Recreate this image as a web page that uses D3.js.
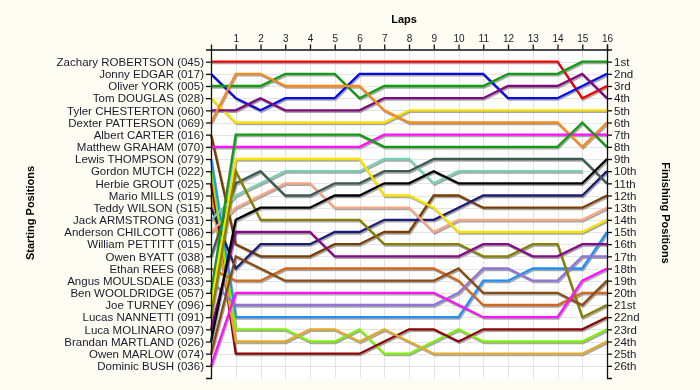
<html>
<head>
<script src="https://cdnjs.cloudflare.com/ajax/libs/d3/7.8.5/d3.min.js"></script>
<style>
body{
  margin:0;
  padding:0;
  background-color:#fdfdf4;
  overflow:hidden;
  font-family:'Liberation Sans', Arial, sans-serif;
}
#chart{
  position:fixed;
  left:0px;
  top:0px;
}
</style>
</head>
<body>
<div id="chart"></div>
<script>
//========== DATA =============
const laps = d3.range(0, 17);   // lap 0 = grid

const drivers = [
  "Zachary ROBERTSON (045)", "Jonny EDGAR (017)", "Oliver YORK (005)", "Tom DOUGLAS (028)",
  "Tyler CHESTERTON (060)", "Dexter PATTERSON (069)", "Albert CARTER (016)", "Matthew GRAHAM (070)",
  "Lewis THOMPSON (079)", "Gordon MUTCH (022)", "Herbie GROUT (025)", "Mario MILLS (019)",
  "Teddy WILSON (S15)", "Jack ARMSTRONG (031)", "Anderson CHILCOTT (086)", "William PETTITT (015)",
  "Owen BYATT (038)", "Ethan REES (068)", "Angus MOULSDALE (033)", "Ben WOOLDRIDGE (057)",
  "Joe TURNEY (096)", "Lucas NANNETTI (091)", "Luca MOLINARO (097)", "Brandan MARTLAND (026)",
  "Owen MARLOW (074)", "Dominic BUSH (036)"
];

const finishLabels = ["1st","2nd","3rd","4th","5th","6th","7th","8th","9th","10th","11th","12th","13th",
  "14th","15th","16th","17th","18th","19th","20th","21st","22nd","23rd","24th","25th","26th"];

const lineColors = [
  "#f00000", "#0a0ae6", "#139a13", "#f7e200", "#7d0a7d", "#f8891c", "#7a3d05", "#ff10ff",
  "#2090f8", "#7ef00a", "#8c0505", "#e0aa2a", "#1c1c74", "#78d0b0", "#f7a582", null,
  "#3c5a55", "#d2691e", "#9373d8", "#139a13", "#f7e200", "#868000", "#850a85", "#000000",
  "#8a4a14", "#ff10ff"
];

// position on each lap, driver by driver (null = not running)
const lapPositions = [
  [1,1,1,1,1,1,1,1,1,1,1,1,1,1,1,4,3],
  [2,4,5,4,4,4,2,2,2,2,2,2,4,4,4,3,2],
  [3,3,3,2,2,2,4,3,3,3,3,3,2,2,2,1,1],
  [4,6,6,6,6,6,6,6,5,5,5,5,5,5,5,5,5],
  [5,5,4,5,5,5,5,4,4,4,4,4,3,3,3,2,4],
  [6,2,2,3,3,3,3,5,6,6,6,6,6,6,6,8,6],
  [7,16,17,17,17,16,16,15,15,12,12,13,13,13,13,13,12],
  [8,8,8,8,8,8,8,7,7,7,7,7,7,7,7,7,7],
  [9,22,22,22,22,22,22,22,22,22,22,19,19,18,18,18,15],
  [10,23,23,23,24,24,23,25,25,24,23,24,24,24,24,24,23],
  [11,25,25,25,25,25,25,24,23,23,24,23,23,23,23,23,22],
  [12,24,24,24,23,23,24,23,24,25,25,25,25,25,25,25,24],
  [13,18,16,16,16,15,15,14,14,14,13,12,12,12,12,12,10],
  [14,12,11,10,10,10,10,9,9,11,10,10,10,10,10,10,null],
  [15,13,12,11,11,13,13,13,13,15,14,14,14,14,14,14,13],
  [16,null,null,null,null,null,null,null,null,null,null,null,null,null,null,null,null],
  [17,11,10,12,12,11,11,10,10,9,9,9,9,9,9,9,11],
  [18,19,19,18,18,18,18,18,18,18,19,21,21,21,21,20,20],
  [19,21,21,21,21,21,21,21,21,21,20,18,18,19,19,17,17],
  [20,7,7,7,7,7,7,8,8,8,8,8,8,8,8,6,8],
  [21,9,9,9,9,9,9,12,12,13,15,15,15,15,15,15,14],
  [22,10,14,14,14,14,14,16,16,16,16,17,17,16,16,22,21],
  [23,15,15,15,15,17,17,17,17,17,17,16,16,17,17,16,16],
  [24,14,13,13,13,12,12,11,11,10,11,11,11,11,11,11,9],
  [25,17,18,19,19,19,19,19,19,19,18,20,20,20,20,21,19],
  [26,20,20,20,20,20,20,20,20,20,21,22,22,22,22,19,18]
];

//========== SVG VIEW =============
const width = 700, height = 390;
const svg = d3.select("#chart").append("svg").attr("width", width).attr("height", height);

const x = d3.scaleLinear().domain([0, 16]).range([211, 607]);
const y = d3.scaleLinear().domain([0, 27]).range([49.5, 378]);
const rows = d3.range(1, 27);

// plot background
svg.append("rect")
  .attr("x", x(0)).attr("y", y(0))
  .attr("width", x(16) - x(0)).attr("height", y(27) - y(0))
  .attr("fill", "white");

// grid
const grid = svg.append("g").attr("stroke", "#e4e4e4").attr("stroke-width", 1);
grid.selectAll(".vg").data(laps.slice(1)).enter().append("line")
  .attr("x1", d => Math.round(x(d)) + 0.5).attr("x2", d => Math.round(x(d)) + 0.5)
  .attr("y1", y(0)).attr("y2", y(27));
grid.selectAll(".hg").data(rows).enter().append("line")
  .attr("y1", d => Math.round(y(d)) + 0.5).attr("y2", d => Math.round(y(d)) + 0.5)
  .attr("x1", x(0)).attr("x2", x(16));

//========== LINES ===========
const series = lapPositions.map((p, i) => ({
  color: lineColors[i],
  pts: laps.map(l => [l, p[l]]).filter(d => d[1] != null)
})).filter(s => s.pts.length > 1);

const line = d3.line().x(d => x(d[0])).y(d => y(d[1]));

svg.append("g").attr("transform", "translate(1,1.6)")
  .selectAll("path").data(series).enter().append("path")
  .attr("d", d => line(d.pts))
  .attr("fill", "none").attr("stroke", "#8a8a8a").attr("stroke-opacity", 0.75)
  .attr("stroke-width", 2.2);

svg.append("g")
  .selectAll("path").data(series).enter().append("path")
  .attr("d", d => line(d.pts))
  .attr("fill", "none").attr("stroke", d => d.color)
  .attr("stroke-width", 2.3);

//========== AXES ===========
const leftAxis = d3.axisLeft(y).tickValues(rows).tickFormat(d => drivers[d - 1]).tickSize(5).tickSizeOuter(5);
const rightAxis = d3.axisRight(y).tickValues(rows).tickFormat(d => finishLabels[d - 1]).tickSize(5).tickSizeOuter(5);
const topAxis = d3.axisTop(x).tickValues(laps.slice(1)).tickSize(5).tickSizeOuter(5);

const gl = svg.append("g").attr("transform", `translate(${x(0)},0)`).call(leftAxis);
const gr = svg.append("g").attr("transform", `translate(${x(16)},0)`).call(rightAxis);
const gt = svg.append("g").attr("transform", `translate(0,${y(0)})`).call(topAxis);

[gl, gr, gt].forEach(g => {
  g.selectAll("path, line").attr("stroke", "#111").attr("stroke-width", 1.3);
  g.selectAll("text").attr("fill", "#1a1a2a").style("font-family", "'Liberation Sans', Arial, sans-serif");
});
gl.selectAll("text").style("font-size", "11.5px").attr("x", -7);
gr.selectAll("text").style("font-size", "11.5px").attr("x", 7);
gt.selectAll("text").style("font-size", "10px").attr("y", -8);

//========== TITLES ===========
svg.append("text").attr("x", 404).attr("y", 23).attr("text-anchor", "middle")
  .style("font-size", "11px").style("font-weight", "bold").text("Laps");

svg.append("text").attr("transform", "translate(34,213) rotate(-90)").attr("text-anchor", "middle")
  .style("font-size", "11px").style("font-weight", "bold").text("Starting Positions");

svg.append("text").attr("transform", "translate(662,213) rotate(90)").attr("text-anchor", "middle")
  .style("font-size", "11px").style("font-weight", "bold").text("Finishing Positions");
</script>
</body>
</html>
